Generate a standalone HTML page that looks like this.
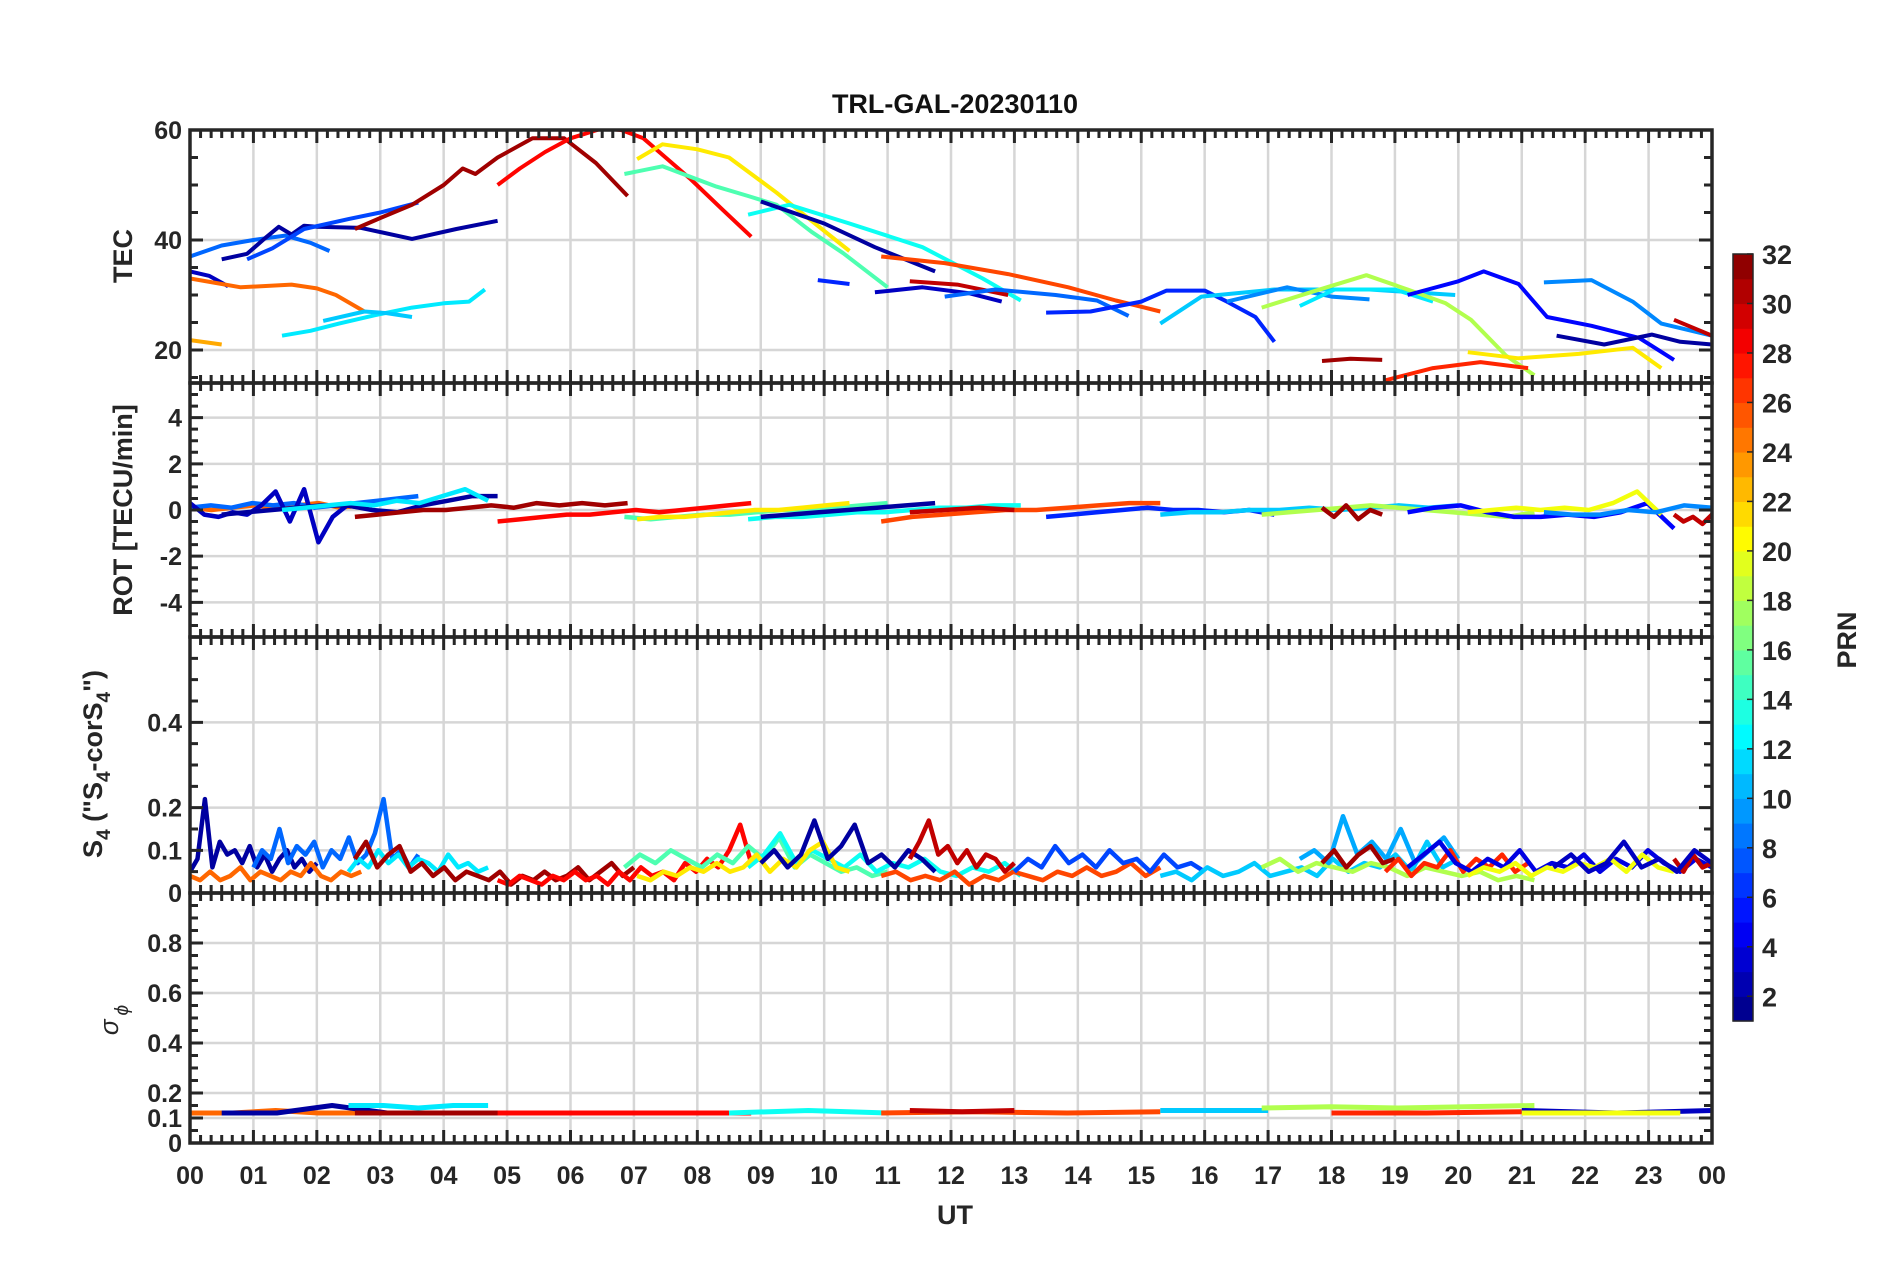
<!DOCTYPE html>
<html><head><meta charset="utf-8"><style>
html,body{margin:0;padding:0;background:#fff;}
svg{display:block;font-family:"Liberation Sans",sans-serif;}
</style></head><body>
<svg id="chart" width="1902" height="1272" viewBox="0 0 1902 1272" xmlns="http://www.w3.org/2000/svg">
<rect width="1902" height="1272" fill="#fff"/>
<text x="955" y="113" text-anchor="middle" font-size="27" font-weight="bold" fill="#111">TRL-GAL-20230110</text>
<g id="panels"></g>
<text x="955" y="1224" text-anchor="middle" font-size="27" font-weight="bold" fill="#262626">UT</text>
<text transform="translate(132,256) rotate(-90)" text-anchor="middle" font-size="27" font-weight="bold" fill="#262626">TEC</text>
<text transform="translate(132,510) rotate(-90)" text-anchor="middle" font-size="27" font-weight="bold" fill="#262626">ROT [TECU/min]</text>
<text transform="translate(102,764) rotate(-90)" text-anchor="middle" font-size="27" font-weight="bold" fill="#262626">S<tspan font-size="19" dy="8">4</tspan><tspan dy="-8"> ("S</tspan><tspan font-size="19" dy="8">4</tspan><tspan dy="-8">-corS</tspan><tspan font-size="19" dy="8">4</tspan><tspan dy="-8">")</tspan></text>
<text transform="translate(118,1020) rotate(-90)" text-anchor="middle" font-size="26" font-style="italic" fill="#262626">σ<tspan font-size="19" dy="10" dx="4">ϕ</tspan></text>
<g id="cbar"></g>
<text transform="translate(1856,640) rotate(-90)" text-anchor="middle" font-size="27" font-weight="bold" fill="#262626">PRN</text>
</svg>
<script>
// ---------- data ----------
const tecPrn = [8,2,7,3,25,23,12,11,31,28,21,15,13,2,6,3,26,30,8,6,11,9,12,18,31,27,5,21,9,2,30];
const tecTracks = [
[[0,37],[0.5,39],[1,40],[1.5,40.8],[1.9,39.5],[2.2,38]],
[[0.5,36.5],[0.9,37.5],[1.2,40.5],[1.4,42.4],[1.6,41],[1.8,42.6],[2.0,42.4],[2.7,42.2],[3.5,40.2],[4.2,42],[4.85,43.5]],
[[0.9,36.5],[1.3,38.5],[1.8,42],[2.5,43.8],[3.0,45],[3.6,46.8]],
[[0,34.3],[0.3,33.5],[0.6,31.6]],
[[0,33],[0.4,32.2],[0.8,31.4],[1.6,31.9],[2.0,31.2],[2.3,30],[2.75,27]],
[[0,21.8],[0.5,21]],
[[1.45,22.6],[1.9,23.5],[2.35,24.8],[2.9,26.3],[3.5,27.7],[4.0,28.5],[4.4,28.8],[4.65,31]],
[[2.1,25.3],[2.75,27],[3.1,26.7],[3.5,26]],
[[2.6,42],[3.0,44],[3.5,46.4],[4.0,50],[4.3,53],[4.5,52],[4.85,55],[5.4,58.5],[5.9,58.5],[6.4,54],[6.9,48]],
[[4.85,50],[5.2,53],[5.6,56],[6.0,58.5],[6.5,60.3],[6.8,60],[7.15,58.5],[7.5,55],[7.9,51],[8.4,45.5],[8.85,40.6]],
[[7.05,54.7],[7.45,57.4],[8.0,56.5],[8.5,55],[9.25,48.6],[9.8,43.5],[10.4,38]],
[[6.85,52],[7.45,53.4],[8.3,49.7],[8.8,48],[9.25,46.4],[9.8,41.5],[10.3,37.6],[11,31.4]],
[[8.8,44.6],[9.45,46.4],[10.4,43],[11.55,38.7],[12.5,33],[13.1,29]],
[[9,47],[10,43],[10.8,38.7],[11.75,34.3]],
[[9.9,32.7],[10.4,32]],
[[10.8,30.5],[11.55,31.4],[12.3,30.3],[12.8,28.8]],
[[10.9,37],[11.9,35.8],[12.9,33.8],[13.85,31.4],[14.6,29],[15.3,27]],
[[11.35,32.5],[12.1,31.9],[12.9,30]],
[[11.9,29.7],[12.7,31],[13.65,30],[14.3,29],[14.8,26.2]],
[[13.5,26.8],[14.2,27],[15,28.8],[15.4,30.8],[16.0,30.8],[16.35,28.8],[16.8,26],[17.1,21.5]],
[[15.3,24.8],[15.95,29.7],[17.1,31],[18.6,31],[19.95,30]],
[[16.35,28.8],[17.3,31.4],[18,29.7],[18.6,29.2]],
[[17.5,28],[18.05,31],[19,31],[19.6,28.8]],
[[16.9,27.7],[17.7,30.6],[18.55,33.6],[19.2,31],[19.8,28.5],[20.2,25.5],[20.75,19],[21.2,15.4]],
[[17.85,18],[18.3,18.4],[18.8,18.2]],
[[18.85,14.5],[19.6,16.7],[20.35,17.8],[21.1,16.7]],
[[19.2,30],[20,32.5],[20.4,34.3],[20.95,32],[21.4,26],[22.1,24.4],[22.85,22.2],[23.4,18.2]],
[[20.15,19.6],[20.95,18.5],[21.9,19.3],[22.75,20.4],[23.2,16.7]],
[[21.35,32.3],[22.1,32.7],[22.75,28.8],[23.2,24.8],[24,22.6]],
[[21.55,22.6],[22.3,21],[23.05,22.8],[23.5,21.5],[24,21]],
[[23.4,25.5],[24,22.6]]
];
// ROT segments: [start,end,prn], values sampled evenly
const rotSegs = [[0,2.7,25],[0,3.6,8],[0,2.7,3],[0.5,4.85,2],[1.45,4.7,12],[2.6,6.9,31],[4.85,8.85,28],[6.85,11,15],[7.05,10.4,21],[8.8,13.1,13],[9,11.75,2],[10.9,15.3,26],[11.35,13,30],[13.5,17.1,6],[15.3,20,11],[16.9,21.2,18],[17.85,18.8,31],[19.2,23.4,5],[20.15,23.2,20],[23.4,24,30],[21.35,24,9]];
const rotVals = [
[0.1,0.0,0.1,0.2,0.1,0.2,0.3,0.1,0.2],
[0.1,0.2,0.1,0.3,0.2,0.3,0.1,0.2,0.3,0.4,0.5,0.6],
[0.3,-0.2,-0.3,-0.1,-0.2,0.2,0.8,-0.5,0.9,-1.4,-0.3,0.2,0.1],
[-0.2,-0.1,0,0.1,0.2,0.2,0,-0.1,0.2,0.4,0.6,0.6],
[0,0.1,0.2,0.3,0.2,0.4,0.3,0.6,0.9,0.4],
[-0.3,-0.2,-0.1,0,0,0.1,0.2,0.1,0.3,0.2,0.3,0.2,0.3],
[-0.5,-0.4,-0.3,-0.2,-0.2,-0.1,0,-0.1,0,0.1,0.2,0.3],
[-0.3,-0.4,-0.3,-0.2,-0.2,-0.1,0,0,0.1,0.2,0.3],
[-0.4,-0.3,-0.3,-0.2,-0.1,0,0,0.1,0.2,0.3],
[-0.4,-0.3,-0.3,-0.2,-0.1,-0.1,0,0.1,0.1,0.2,0.2],
[-0.3,-0.2,-0.1,0,0.1,0.2,0.3],
[-0.5,-0.3,-0.2,-0.1,0,0,0.1,0.2,0.3,0.3],
[-0.1,0,0.1,0],
[-0.3,-0.2,-0.1,0,0.1,0,0,-0.1,0,-0.2],
[-0.2,-0.1,-0.1,0,0,0.1,0,0.1,0.2,0.1,0.2],
[-0.2,-0.1,0,0.1,0.2,0.1,0,-0.1,-0.2,-0.3,-0.1],
[0.1,-0.3,0.2,-0.4,0,-0.2],
[-0.1,0.1,0.2,-0.1,-0.3,-0.3,-0.2,-0.3,-0.1,0.3,-0.8],
[-0.1,0,0.1,0,0.1,0,0.3,0.8,-0.2],
[-0.2,-0.5,-0.3,-0.6,-0.2],
[-0.1,-0.2,-0.2,0,-0.1,0.2,0.1]
];
const s4Segs = [[0,2,2],[1,3.6,8],[2.5,4.7,12],[0,2.7,25],[2.6,7,31],[4.85,8.85,28],[6.85,11,15],[8.8,13.1,13],[7.05,10.4,21],[9,11.75,2],[11.35,13,30],[10.9,15.3,26],[13,16,7],[15.3,20,11],[16.9,21.2,18],[17.5,20,10],[17.85,19,31],[18.85,21.1,27],[19.2,24,4],[20.15,23.4,20],[23.4,24,30],[21.5,24,3]];
const s4Vals = [
[0.05,0.08,0.22,0.06,0.12,0.09,0.1,0.07,0.11,0.06,0.09,0.05,0.08,0.1,0.06,0.08,0.05,0.07],
[0.06,0.1,0.08,0.15,0.07,0.11,0.09,0.12,0.06,0.1,0.08,0.13,0.07,0.09,0.14,0.22,0.08,0.1,0.06,0.09],
[0.05,0.08,0.06,0.1,0.07,0.09,0.06,0.08,0.07,0.05,0.09,0.06,0.07,0.05,0.06],
[0.04,0.03,0.05,0.03,0.04,0.06,0.03,0.05,0.04,0.03,0.05,0.04,0.07,0.04,0.03,0.05,0.04,0.05],
[0.08,0.12,0.06,0.09,0.11,0.05,0.07,0.04,0.06,0.03,0.05,0.04,0.03,0.05,0.02,0.04,0.03,0.05,0.03,0.04,0.06,0.03,0.05,0.07,0.04,0.06],
[0.03,0.02,0.04,0.03,0.02,0.04,0.03,0.05,0.03,0.04,0.02,0.05,0.03,0.06,0.04,0.05,0.03,0.07,0.05,0.08,0.06,0.1,0.16,0.07],
[0.06,0.09,0.07,0.1,0.08,0.06,0.09,0.07,0.11,0.08,0.13,0.06,0.09,0.07,0.05,0.06,0.04,0.05],
[0.06,0.09,0.14,0.07,0.1,0.08,0.06,0.09,0.05,0.07,0.06,0.08,0.05,0.04,0.06,0.05,0.07,0.04],
[0.04,0.03,0.05,0.04,0.06,0.05,0.07,0.05,0.06,0.09,0.05,0.08,0.06,0.1,0.12,0.06,0.05],
[0.07,0.1,0.06,0.09,0.17,0.08,0.11,0.16,0.07,0.09,0.06,0.1,0.08,0.05],
[0.08,0.12,0.17,0.09,0.11,0.07,0.1,0.06,0.09,0.08,0.05,0.07],
[0.04,0.05,0.03,0.04,0.03,0.05,0.02,0.04,0.03,0.05,0.04,0.03,0.05,0.04,0.06,0.04,0.05,0.07,0.04,0.06],
[0.05,0.08,0.06,0.11,0.07,0.09,0.06,0.1,0.07,0.08,0.05,0.09,0.06,0.07,0.05],
[0.04,0.05,0.03,0.06,0.04,0.05,0.07,0.04,0.05,0.06,0.04,0.08,0.05,0.07,0.06,0.09,0.05,0.12,0.06,0.08],
[0.06,0.08,0.05,0.07,0.06,0.05,0.07,0.06,0.04,0.06,0.05,0.04,0.05,0.03,0.04,0.03],
[0.08,0.1,0.07,0.18,0.09,0.12,0.08,0.15,0.07,0.1,0.13,0.08],
[0.07,0.1,0.06,0.09,0.11,0.07,0.08],
[0.05,0.08,0.04,0.07,0.06,0.1,0.05,0.08,0.06,0.09,0.05,0.07],
[0.06,0.09,0.12,0.07,0.05,0.08,0.06,0.1,0.05,0.07,0.06,0.09,0.05,0.08,0.06,0.1,0.07,0.05,0.08,0.06],
[0.04,0.06,0.05,0.07,0.04,0.06,0.05,0.07,0.06,0.08,0.05,0.09,0.06,0.05],
[0.08,0.05,0.09,0.06,0.07],
[0.06,0.09,0.05,0.07,0.12,0.06,0.08,0.05,0.1,0.07]
];
const sigSegs = [[0,2.7,25],[0.5,4.85,2],[2.5,4.7,12],[2.6,6.9,31],[4.85,8.85,28],[8.5,11,13],[10.9,15.3,26],[11.35,13,30],[15.3,17,11],[16.9,21.2,18],[18,21,27],[21,24,3],[21,23.5,20]];
const sigVals = [
[0.12,0.12,0.13,0.12,0.12],
[0.12,0.12,0.15,0.12,0.12,0.12],
[0.15,0.15,0.14,0.15,0.15],
[0.12,0.12,0.12,0.12],
[0.12,0.12,0.12,0.12],
[0.12,0.13,0.12],
[0.12,0.125,0.12,0.125],
[0.13,0.125,0.13],
[0.13,0.13,0.13],
[0.14,0.145,0.14,0.145,0.15],
[0.12,0.12,0.125],
[0.13,0.12,0.13],
[0.12,0.12,0.12]
];
const xTickLabels = ["00","01","02","03","04","05","06","07","08","09","10","11","12","13","14","15","16","17","18","19","20","21","22","23","00"];
const cbarTicks = [2,4,6,8,10,12,14,16,18,20,22,24,26,28,30,32];

// ---------- layout ----------
const NS="http://www.w3.org/2000/svg";
const X0=190, X1=1712;
const xs = h => X0 + h/24*(X1-X0);
function mk(tag, attrs, parent){const e=document.createElementNS(NS,tag);for(const k in attrs)e.setAttribute(k,attrs[k]);parent.appendChild(e);return e;}
function jet(prn){
  const t=(prn-1)/31; const r=Math.min(Math.max(Math.min(4*t-1.5,-4*t+4.5),0),1);
  const g=Math.min(Math.max(Math.min(4*t-0.5,-4*t+3.5),0),1);
  const b=Math.min(Math.max(Math.min(4*t+0.5,-4*t+2.5),0),1);
  return `rgb(${Math.round(r*255)},${Math.round(g*255)},${Math.round(b*255)})`;
}
const panels=[
 {name:"tec",top:130,bot:383,min:14,max:60,major:[20,40,60],minor:5,labels:["20","40","60"]},
 {name:"rot",top:383,bot:637,min:-5.5,max:5.5,major:[-4,-2,0,2,4],minor:0.5,labels:["-4","-2","0","2","4"]},
 {name:"s4",top:637,bot:893,min:0,max:0.6,major:[0,0.1,0.2,0.4],minor:0.05,labels:["0","0.1","0.2","0.4"]},
 {name:"sigma",top:893,bot:1143,min:0,max:1,major:[0,0.1,0.2,0.4,0.6,0.8],minor:0.05,labels:["0","0.1","0.2","0.4","0.6","0.8"]}
];
const root=document.getElementById('panels');
panels.forEach((p,pi)=>{
  const ys=v=>p.bot-(v-p.min)/(p.max-p.min)*(p.bot-p.top);
  p.ys=ys;
  const g=mk('g',{},root);
  
  
  for(let h=1;h<24;h++){const l=mk('line',{x1:xs(h),x2:xs(h),y1:p.top,y2:p.bot,stroke:"#d6d6d6","stroke-width":2.5},g);
    
    }
  p.major.forEach(v=>{if(v<=p.min||v>=p.max)return;const l=mk('line',{x1:X0,x2:X1,y1:ys(v),y2:ys(v),stroke:"#d6d6d6","stroke-width":2.5},g);
    
    });
  p.g=g;
});
const defs=mk('defs',{},root);
panels.forEach(p=>{const c=mk('clipPath',{id:'clip-'+p.name},defs);mk('rect',{x:X0,y:p.top,width:X1-X0,height:p.bot-p.top},c);});
const P0=panels[0];
tecTracks.forEach((tr,i)=>{
  const d=tr.map((pt,j)=>(j?'L':'M')+xs(pt[0]).toFixed(1)+','+P0.ys(pt[1]).toFixed(1)).join('');
  const e=mk('path',{d:d,fill:'none',stroke:jet(tecPrn[i]),'stroke-width':4,'stroke-linejoin':'round','clip-path':'url(#clip-tec)'},P0.g);
  
  
});
function drawSegs(p,segs,vals,w,label){
  segs.forEach((s,i)=>{
    const v=vals[i],n=v.length;
    const d=v.map((y,j)=>(j?'L':'M')+xs(s[0]+(s[1]-s[0])*j/(n-1)).toFixed(1)+','+p.ys(y).toFixed(1)).join('');
    const e=mk('path',{d:d,fill:'none',stroke:jet(s[2]),'stroke-width':w,'stroke-linejoin':'round','clip-path':'url(#clip-'+p.name+')'},p.g);
    
    
  });
}
drawSegs(panels[1],rotSegs,rotVals,4.5,'rot');
drawSegs(panels[2],s4Segs,s4Vals,4.5,'s4');
drawSegs(panels[3],sigSegs,sigVals,5,'sigma');
panels.forEach((p,pi)=>{
  const g=p.g, col="#262626";
  const f=mk('rect',{x:X0,y:p.top,width:X1-X0,height:p.bot-p.top,fill:'none',stroke:col,'stroke-width':3.5},g);
  
  
  let d='';
  for(let m=0;m<=144;m++){const x=xs(m/6);const L=(m%6===0)?13:8;d+=`M${x},${p.top}v${L}M${x},${p.bot}v${-L}`;}
  const eps=1e-6;
  for(let v=Math.ceil(p.min/p.minor)*p.minor;v<=p.max+eps;v+=p.minor){
    const isMaj=p.major.some(m=>Math.abs(m-v)<eps);const L=isMaj?13:8;const y=p.ys(v);
    d+=`M${X0},${y}h${L}M${X1},${y}h${-L}`;}
  mk('path',{d:d,stroke:col,'stroke-width':3,fill:'none'},g);
  p.major.forEach((v,i)=>{const t=mk('text',{x:X0-8,y:p.ys(v)+9,'text-anchor':'end','font-size':25,'font-weight':'bold',fill:col},g);
    t.textContent=p.labels[i];
    
    });
});
xTickLabels.forEach((lab,i)=>{const t=mk('text',{x:xs(i),y:1184,'text-anchor':'middle','font-size':25,'font-weight':'bold',fill:'#262626'},root);
  t.textContent=lab;
  
  });
const cb=document.getElementById('cbar');
const CT=254, CB=1021, CX=1733, CW=20;
const cy=v=>CB-(v-1)/31*(CB-CT);
for(let k=0;k<31;k++){const r=mk('rect',{x:CX,y:cy(k+2),width:CW,height:cy(k+1)-cy(k+2)+0.6,fill:jet(k+1.5)},cb);
  
  }
mk('rect',{x:CX,y:CT,width:CW,height:CB-CT,fill:'none',stroke:'#262626','stroke-width':1.5},cb);
cbarTicks.forEach(v=>{mk('line',{x1:CX+CW-6,x2:CX+CW,y1:cy(v),y2:cy(v),stroke:'#262626','stroke-width':1.5},cb);
  const t=mk('text',{x:1762,y:cy(v)+10,'font-size':27,'font-weight':'bold',fill:'#262626'},cb);
  t.textContent=String(v);
  
  });
</script>
</body></html>
